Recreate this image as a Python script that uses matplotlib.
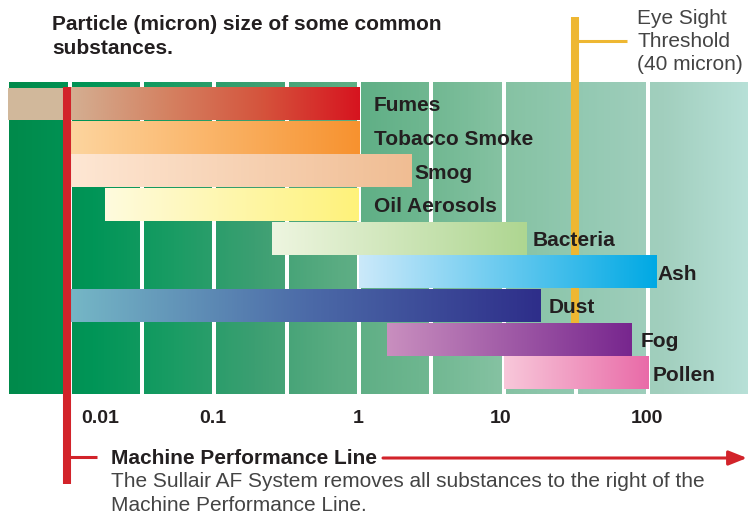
"""Particle size chart: log-scale range bars over a green striped background."""

import numpy as np
import matplotlib
matplotlib.use("Agg")
import matplotlib.pyplot as plt
from matplotlib import transforms
from matplotlib.colors import LinearSegmentedColormap
from matplotlib.lines import Line2D

plt.rcParams["font.family"] = ["Liberation Sans", "DejaVu Sans"]

# ------------------------------------------------------------------
# Data (micron)
# ------------------------------------------------------------------
substances = ["Fumes", "Tobacco Smoke", "Smog", "Oil Aerosols", "Bacteria",
              "Ash", "Dust", "Fog", "Pollen"]
size_min = [0.0037, 0.01, 0.01, 0.0175, 0.25, 1.0, 0.01, 1.55, 10.0]
size_max = [1.0, 1.0, 2.3, 1.0, 14.5, 115.0, 18.0, 76.0, 100.0]
tick_values = [0.01, 0.1, 1, 10, 100]
tick_labels = ["0.01", "0.1", "1", "10", "100"]
machine_line = 0.0096
eye_sight = 31

# ------------------------------------------------------------------
# Styles
# ------------------------------------------------------------------
bar_colors = [
    ["#D4AF92", "#D48262", "#D5533C", "#D7141F"],
    ["#FDD59F", "#F7922F"],
    ["#FEE7D4", "#F0BD93"],
    ["#FEFBDE", "#FFF27A"],
    ["#EEF5E0", "#AED691"],
    ["#CBE9FA", "#00A9E4"],
    ["#75B7C6", "#4C6BA8", "#2E2E8A"],
    ["#C98FBF", "#77268E"],
    ["#F8C8DA", "#E96BA8"],
]
fumes_flat = "#D1B89B"
fumes_grad_start = 0.01
label_pad_px = [15, 15, 3, 15, 6, 1, 8, 10, 5]
tick_pad_px = [30, -2, -1, -3, -1]
bg_colors = ["#008A4B", "#009557", "#1A9C64", "#3C9F72", "#5AAC82",
             "#6DB68F", "#85C2A2", "#93C9B2", "#A2CFBE", "#B7E0D7"]
dark = "#231F20"
grey = "#444444"
red = "#D2232A"
yellow = "#EEB732"

W, H = 748, 515
PPD = 144.5        # pixels per decade
X_ONE = 359        # pixel position of 1 micron
ROW_TOP, ROW_PX = 87, 33.67
AX_TOP, AX_BOT = 82, 394

fig = plt.figure(figsize=(W / 100, H / 100), dpi=100)
fig.patch.set_facecolor("white")
ax = fig.add_axes([0, 1 - AX_BOT / H, 1, (AX_BOT - AX_TOP) / H])
ax.axis("off")

xlo = -X_ONE / PPD
xhi = (W - X_ONE) / PPD
ytop = -0.5 - (ROW_TOP - AX_TOP) / ROW_PX
ybot = len(substances) - 0.5 + (AX_BOT - (ROW_TOP + ROW_PX * len(substances))) / ROW_PX

grad = np.linspace(0, 1, 512)[None, :]

# background stripes
bg_cmap = LinearSegmentedColormap.from_list("bg", bg_colors)
ax.imshow(grad, extent=[xlo + 9 / PPD, xhi, ybot, ytop], aspect="auto",
          cmap=bg_cmap, zorder=0)
for k in np.arange(-2, 2.01, 0.5):
    ax.axvline(k, color="white", lw=4 * 0.72, zorder=1)

# eye sight threshold line (behind the bars)
trans_xfig = transforms.blended_transform_factory(ax.transData, fig.transFigure)
xe = np.log10(eye_sight)
ax.plot([xe, xe], [1 - 17 / H, 1 - 360 / H], transform=trans_xfig,
        color=yellow, lw=5.8, solid_capstyle="butt", clip_on=False, zorder=2)
fig.add_artist(Line2D([(X_ONE + xe * PPD) / W, 627 / W], [1 - 41 / H] * 2,
                      color=yellow, lw=2.2, solid_capstyle="butt"))

# gradient bars
h = 0.96
for i, name in enumerate(substances):
    left, right = np.log10(size_min[i]), np.log10(size_max[i])
    if i == 0 and np.log10(fumes_grad_start) > left:
        g0 = np.log10(fumes_grad_start)
        ax.barh(i, g0 - left, left=left, height=h, color=fumes_flat, zorder=3)
        left = g0
    cmap = LinearSegmentedColormap.from_list(name, bar_colors[i])
    ax.imshow(grad, extent=[left, right, i + h / 2, i - h / 2], aspect="auto",
              cmap=cmap, zorder=3)
    off = transforms.ScaledTranslation(label_pad_px[i] / 100, 0, fig.dpi_scale_trans)
    ax.text(np.log10(size_max[i]), i, name, transform=ax.transData + off,
            ha="left", va="center_baseline", fontsize=15, fontweight="bold",
            color=dark, zorder=5)

ax.set_xlim(xlo, xhi)
ax.set_ylim(ybot, ytop)

# machine performance line
xm = np.log10(machine_line)
ax.plot([xm, xm], [1 - ROW_TOP / H, 1 - 484 / H], transform=trans_xfig,
        color=red, lw=5.8, solid_capstyle="butt", clip_on=False, zorder=6)
fig.add_artist(Line2D([63 / W, 97 / W], [1 - 457 / H] * 2, color=red, lw=2.2,
                      solid_capstyle="butt"))
fig.add_artist(plt.Annotation(
    "", xy=(747 / W, 1 - 458 / H), xytext=(383 / W, 1 - 458 / H),
    xycoords="figure fraction", textcoords="figure fraction",
    arrowprops=dict(arrowstyle="-|>,head_length=0.55,head_width=0.22",
                    color=red, lw=2.2, shrinkA=0, shrinkB=0, mutation_scale=20)))

# tick labels
for v, lab, pad in zip(tick_values, tick_labels, tick_pad_px):
    off = transforms.ScaledTranslation(pad / 100, 0, fig.dpi_scale_trans)
    ax.text(np.log10(v), 1 - 423 / H, lab, transform=trans_xfig + off,
            ha="center", va="baseline", fontsize=14, fontweight="bold",
            color=dark, clip_on=False)

# texts
fig.text(52 / W, 1 - 30 / H, "Particle (micron) size of some common",
         fontsize=15, fontweight="bold", color=dark, va="baseline")
fig.text(52 / W, 1 - 54 / H, "substances.",
         fontsize=15, fontweight="bold", color=dark, va="baseline")
for txt, yb in zip(["Eye Sight", "Threshold", "(40 micron)"], [24, 47, 70]):
    fig.text(637 / W, 1 - yb / H, txt, fontsize=15, color=grey, va="baseline")
fig.text(111 / W, 1 - 464 / H, "Machine Performance Line",
         fontsize=15, fontweight="bold", color=dark, va="baseline")
fig.text(111 / W, 1 - 487 / H,
         "The Sullair AF System removes all substances to the right of the",
         fontsize=15, color=grey, va="baseline")
fig.text(111 / W, 1 - 511 / H, "Machine Performance Line.",
         fontsize=15, color=grey, va="baseline")

fig.savefig("out.png", dpi=100)
